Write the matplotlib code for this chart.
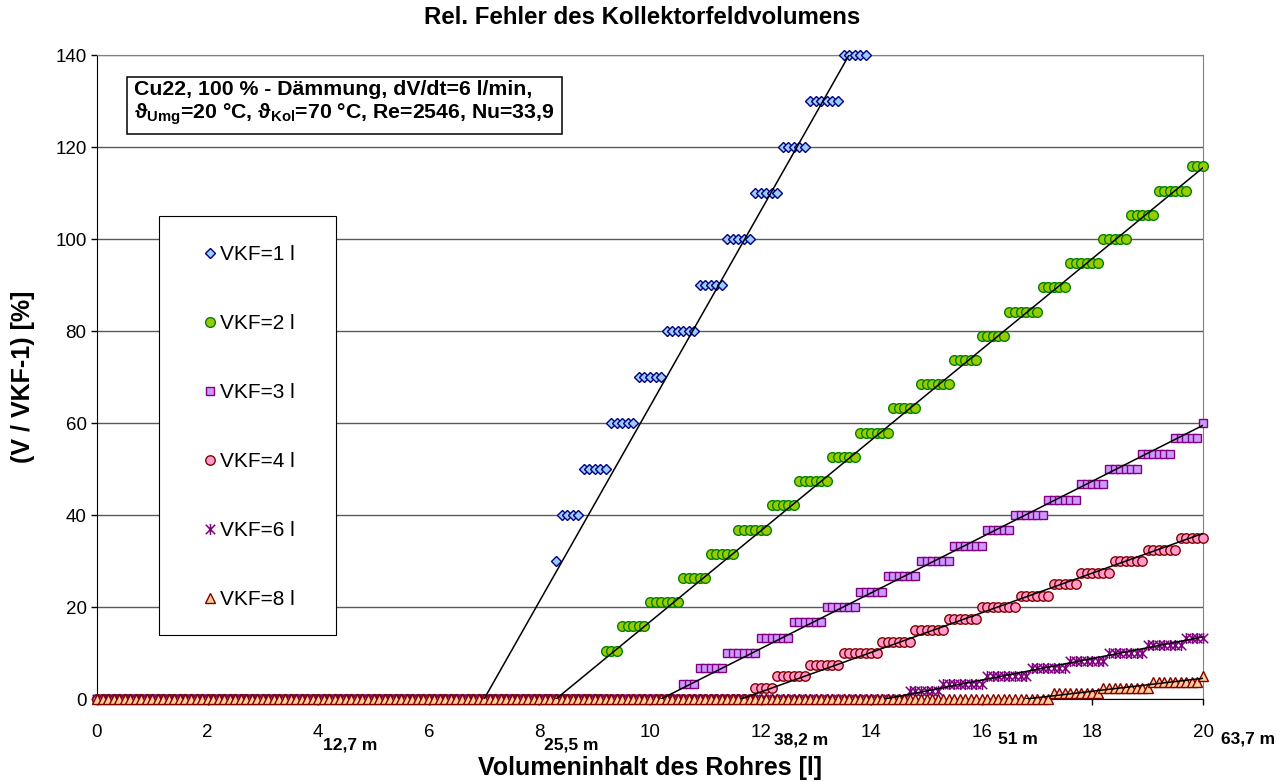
import numpy as np
import matplotlib
matplotlib.use("Agg")
import matplotlib.pyplot as plt
from matplotlib.path import Path
from matplotlib.patches import Rectangle

# volume grid of the measurement [l]
x_step = 0.1
n_points = 201

series_labels = ["VKF=1 l", "VKF=2 l", "VKF=3 l", "VKF=4 l", "VKF=6 l", "VKF=8 l"]

# step levels [%] and number of points sitting on each step
vkf1_levels = [0, 30, 40, 50, 60, 70, 80, 90, 100, 110, 120, 130, 140]
vkf1_counts = [83, 1, 4, 5, 5, 5, 6, 5, 5, 5, 5, 6, 5]

vkf2_levels = [0, 10.53, 15.79, 21.05, 26.32, 31.58, 36.84, 42.11, 47.37, 52.63, 57.89,
               63.16, 68.42, 73.68, 78.95, 84.21, 89.47, 94.74, 100.0, 105.26, 110.53, 115.79]
vkf2_counts = [92, 3, 5, 6, 5, 5, 6, 5, 6, 5, 6,
               5, 6, 5, 5, 6, 5, 6, 5, 5, 6, 3]

vkf3_levels = [0, 3.33, 6.67, 10, 13.33, 16.67, 20, 23.33, 26.67, 30, 33.33, 36.67,
               40, 43.33, 46.67, 50, 53.33, 56.67, 60]
vkf3_counts = [106, 3, 5, 6, 6, 6, 6, 5, 6, 6, 6, 5, 6, 6, 5, 6, 6, 5, 1]

vkf4_levels = [0, 2.5, 5, 7.5, 10, 12.5, 15, 17.5, 20, 22.5, 25, 27.5, 30, 32.5, 35]
vkf4_counts = [119, 4, 6, 6, 7, 6, 6, 6, 7, 6, 5, 6, 6, 6, 5]

vkf6_levels = [0, 1.67, 3.33, 5, 6.67, 8.33, 10, 11.67, 13.33]
vkf6_counts = [147, 6, 8, 8, 7, 7, 7, 7, 4]

vkf8_levels = [0, 1.25, 2.5, 3.75, 5]
vkf8_counts = [173, 9, 9, 9, 1]

# straight black lines: start on the x axis, end point
trend_x0 = [7.0, 8.3, 10.2, 11.65, 14.25, 16.8]
trend_x1 = [13.6, 20, 20, 20, 20, 20]
trend_y1 = [140, 115.5, 59.5, 36.0, 13.5, 4.5]

# pipe length belonging to a volume
pipe_volumes = [4, 8, 12, 16, 20]
pipe_lengths = ["12,7 m", "25,5 m", "38,2 m", "51 m", "63,7 m"]

plt.rcParams['font.family'] = ['Liberation Sans', 'DejaVu Sans']
plt.rcParams['mathtext.fontset'] = 'custom'
plt.rcParams['mathtext.rm'] = 'Liberation Sans'
plt.rcParams['mathtext.bf'] = 'Liberation Sans:bold'
plt.rcParams['mathtext.it'] = 'Liberation Sans:italic'

# Excel like asterisk: vertical bar plus a cross
asterisk = Path([(0, -1), (0, 1), (-0.85, -0.85), (0.85, 0.85), (-0.85, 0.85), (0.85, -0.85)],
                [Path.MOVETO, Path.LINETO, Path.MOVETO, Path.LINETO, Path.MOVETO, Path.LINETO])

styles = [
    dict(marker='D', ms=5.5, mfc='#99CCFF', mec='#000080', mew=1.0),
    dict(marker='o', ms=7.0, mfc='#99CC00', mec='#008000', mew=1.0),
    dict(marker='s', ms=6.0, mfc='#CC99FF', mec='#800080', mew=1.0),
    dict(marker='o', ms=6.8, mfc='#FF99CC', mec='#800000', mew=1.0),
    dict(marker=asterisk, ms=8.0, mfc='#800080', mec='#800080', mew=1.1),
    dict(marker='^', ms=6.5, mfc='#FFCC99', mec='#800000', mew=1.0),
]


def plot():
    levels = [vkf1_levels, vkf2_levels, vkf3_levels, vkf4_levels, vkf6_levels, vkf8_levels]
    counts = [vkf1_counts, vkf2_counts, vkf3_counts, vkf4_counts, vkf6_counts, vkf8_counts]
    x = np.arange(n_points) * x_step

    fig = plt.figure(figsize=(12.84, 7.82), dpi=100)
    ax = fig.add_axes([97 / 1284, 83 / 782, 1106 / 1284, 644 / 782])

    handles = []
    for i in range(len(series_labels)):
        y = np.repeat(levels[i], counts[i])
        h, = ax.plot(x[:len(y)], y, linestyle='none', clip_on=False,
                     zorder=3 + i, label=series_labels[i], **styles[i])
        handles.append(h)

    for i in range(len(series_labels)):
        ax.plot([trend_x0[i], trend_x1[i]], [0, trend_y1[i]], color='black',
                lw=1.1, zorder=10)

    ax.set_xlim(0, 20)
    ax.set_ylim(0, 140)
    ax.set_xticks(np.arange(0, 21, 2))
    ax.set_yticks(np.arange(0, 141, 20))
    ax.yaxis.grid(True, color='#5a5a5a', lw=1.0)
    ax.set_axisbelow(True)
    ax.tick_params(axis='x', direction='out', length=4, width=1, pad=14, labelsize=13.5)
    ax.tick_params(axis='y', direction='out', length=4.5, width=1, pad=3, labelsize=13.5)
    for side in ['top', 'right']:
        ax.spines[side].set_color('#808080')
    ax.spines['left'].set_color('black')
    ax.spines['bottom'].set_color('black')

    ax.set_xlabel("Volumeninhalt des Rohres [l]", fontsize=18, fontweight='bold')
    ax.xaxis.set_label_coords(0.5, -0.088)
    ax.set_ylabel("(V / VKF-1) [%]", fontsize=18, fontweight='bold')
    ax.yaxis.set_label_coords(-0.056, 0.5)
    fig.text(0.5, 1 - 18 / 782, "Rel. Fehler des Kollektorfeldvolumens", fontsize=17.3,
             fontweight='bold', ha='center', va='center')

    # pipe lengths written next to the volume ticks
    offsets = [(3.5, -33), (3.5, -33), (9.5, -29.5), (11.5, -29.5), (13, -28.5)]
    for v, txt, off in zip(pipe_volumes, pipe_lengths, offsets):
        ax.annotate(txt, xy=(v, 0), xytext=off, textcoords='offset points',
                    ha='left', va='center', fontsize=12.5, fontweight='bold',
                    annotation_clip=False)

    info = ("Cu22, 100 % - Dämmung, dV/dt=6 l/min,\n"
            "ϑ$_{\\mathbf{Umg}}$=20 °C, ϑ$_{\\mathbf{Kol}}$=70 °C, Re=2546, Nu=33,9")
    ax.text((134 - 97) / 1106, (699 - 80) / 644, info, transform=ax.transAxes,
            ha='left', va='top', fontsize=15.3, fontweight='bold', linespacing=1.15,
            zorder=20,
            bbox=dict(boxstyle='square,pad=0.34', fc='white', ec='black', lw=1.1))

    leg = ax.legend(handles=handles, loc='upper left', bbox_to_anchor=(0.056, 0.748),
                    borderaxespad=0, frameon=False,
                    fontsize=15, labelspacing=2.4, handlelength=2.2, handletextpad=-0.6,
                    borderpad=1.35, numpoints=1)
    leg.set_zorder(30)
    # legend frame as in the original, wider than the entries
    frame = Rectangle(((159 - 97) / 1106, (699 - 635) / 644), (336 - 159) / 1106,
                      (635 - 216) / 644, transform=ax.transAxes, fc='white',
                      ec='black', lw=0.8, zorder=29, clip_on=False)
    ax.add_patch(frame)

    fig.savefig("out.png", dpi=100)


if __name__ == "__main__":
    plot()
